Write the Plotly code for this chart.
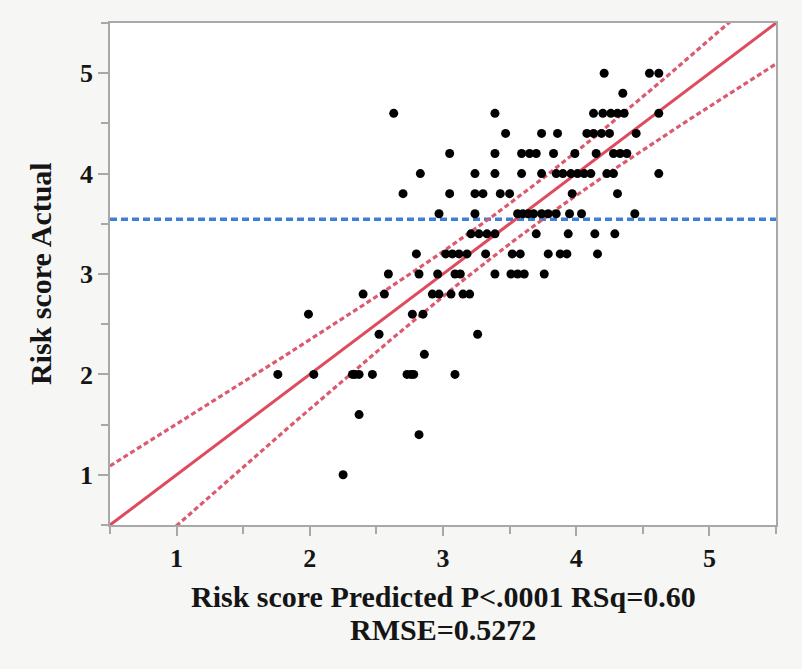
import numpy as np
import plotly.graph_objects as go

# ---- data (actual level -> predicted values of its points)
actual_levels = [5.0, 4.8, 4.6, 4.4, 4.2, 4.0, 3.8, 3.6, 3.4, 3.2, 3.0, 2.8, 2.6, 2.4, 2.2, 2.0, 1.6, 1.4, 1.0]
pred_at_5_0 = [4.21, 4.55, 4.62]
pred_at_4_8 = [4.35]
pred_at_4_6 = [2.63, 3.39, 4.13, 4.20, 4.26, 4.31, 4.36, 4.62]
pred_at_4_4 = [3.47, 3.74, 3.86, 4.08, 4.13, 4.19, 4.25, 4.45]
pred_at_4_2 = [3.05, 3.39, 3.59, 3.65, 3.70, 3.83, 3.99, 4.15, 4.28, 4.33, 4.38]
pred_at_4_0 = [2.83, 3.24, 3.39, 3.59, 3.74, 3.85, 3.90, 3.96, 4.01, 4.06, 4.11, 4.23, 4.28, 4.62]
pred_at_3_8 = [2.70, 3.05, 3.24, 3.30, 3.43, 3.50, 3.97, 4.31]
pred_at_3_6 = [2.97, 3.24, 3.56, 3.60, 3.64, 3.68, 3.74, 3.79, 3.85, 3.95, 4.04, 4.44]
pred_at_3_4 = [3.21, 3.27, 3.33, 3.39, 3.70, 3.94, 4.14, 4.29]
pred_at_3_2 = [2.80, 3.02, 3.07, 3.12, 3.18, 3.32, 3.52, 3.58, 3.79, 3.88, 3.93, 4.16]
pred_at_3_0 = [2.59, 2.82, 2.96, 3.09, 3.13, 3.39, 3.51, 3.56, 3.61, 3.76]
pred_at_2_8 = [2.40, 2.56, 2.92, 2.97, 3.06, 3.15, 3.20]
pred_at_2_6 = [1.99, 2.77, 2.85]
pred_at_2_4 = [2.52, 3.26]
pred_at_2_2 = [2.86]
pred_at_2_0 = [1.76, 2.03, 2.32, 2.34, 2.37, 2.47, 2.73, 2.76, 2.78, 3.09]
pred_at_1_6 = [2.37]
pred_at_1_4 = [2.82]
pred_at_1_0 = [2.25]

pred_rows = [pred_at_5_0, pred_at_4_8, pred_at_4_6, pred_at_4_4, pred_at_4_2, pred_at_4_0,
             pred_at_3_8, pred_at_3_6, pred_at_3_4, pred_at_3_2, pred_at_3_0, pred_at_2_8,
             pred_at_2_6, pred_at_2_4, pred_at_2_2, pred_at_2_0, pred_at_1_6, pred_at_1_4, pred_at_1_0]

mean_actual = 3.545          # blue dashed reference line
fit_slope, fit_intercept = 1.0, 0.0
ci_a, ci_b = 0.040, 0.033    # confidence-curve shape

x_ticks = [1, 2, 3, 4, 5]
y_ticks = [1, 2, 3, 4, 5]
x_title = "Risk score Predicted P<.0001 RSq=0.60"
x_title2 = "RMSE=0.5272"
y_title = "Risk score Actual"

predicted, actual = [], []
for lvl, row in zip(actual_levels, pred_rows):
    predicted += row
    actual += [lvl] * len(row)

xs = np.linspace(0.5, 5.5, 201)
fit = fit_intercept + fit_slope * xs
hw = np.sqrt(ci_a + ci_b * (xs - mean_actual) ** 2)

RED = "#de4b5e"
RED_D = "#dc5a70"
BLUE = "#3f7fd6"
FONT = "Liberation Serif"
TXT = "#151515"

fig = go.Figure()
fig.add_trace(go.Scatter(x=[0.5, 5.5], y=[mean_actual, mean_actual], mode="lines",
                         line=dict(color=BLUE, width=3.5, dash="7px,4px"), hoverinfo="skip"))
fig.add_trace(go.Scatter(x=xs, y=fit + hw, mode="lines",
                         line=dict(color=RED_D, width=3.2, dash="5px,3px"), hoverinfo="skip"))
fig.add_trace(go.Scatter(x=xs, y=fit - hw, mode="lines",
                         line=dict(color=RED_D, width=3.2, dash="5px,3px"), hoverinfo="skip"))
fig.add_trace(go.Scatter(x=xs, y=fit, mode="lines",
                         line=dict(color=RED, width=3), hoverinfo="skip"))
fig.add_trace(go.Scatter(x=predicted, y=actual, mode="markers",
                         marker=dict(color="black", size=9)))

axis_common = dict(range=[0.5, 5.5], showgrid=False, zeroline=False, showline=True,
                   linecolor="#a8a8a8", linewidth=1.5, mirror=True, ticks="outside",
                   tickcolor="#a8a8a8", tickwidth=1.5,
                   tickfont=dict(family=FONT, size=26, color=TXT, weight="bold"))

fig.update_layout(
    width=802, height=669, showlegend=False,
    paper_bgcolor="#f6f6f4", plot_bgcolor="white",
    margin=dict(l=110, r=26, t=23, b=144),
    xaxis=dict(axis_common, tickvals=x_ticks, ticklen=9,
               minor=dict(dtick=0.5, tick0=0.5, ticks="outside", ticklen=7, tickcolor="#a8a8a8", tickwidth=1.5)),
    yaxis=dict(axis_common, tickvals=y_ticks, ticklen=10,
               minor=dict(dtick=0.5, tick0=0.5, ticks="outside", ticklen=7, tickcolor="#a8a8a8", tickwidth=1.5)),
    annotations=[
        dict(text=x_title, xref="paper", yref="paper", x=0.5, y=-0.143,
             xanchor="center", yanchor="middle", showarrow=False,
             font=dict(family=FONT, size=30, color=TXT, weight="bold")),
        dict(text=x_title2, xref="paper", yref="paper", x=0.5, y=-0.209,
             xanchor="center", yanchor="middle", showarrow=False,
             font=dict(family=FONT, size=30, color=TXT, weight="bold")),
        dict(text=y_title, xref="paper", yref="paper", x=-0.105, y=0.5,
             xanchor="center", yanchor="middle", textangle=-90, showarrow=False,
             font=dict(family=FONT, size=30, color=TXT, weight="bold")),
    ],
)

fig.write_html("out.html")
